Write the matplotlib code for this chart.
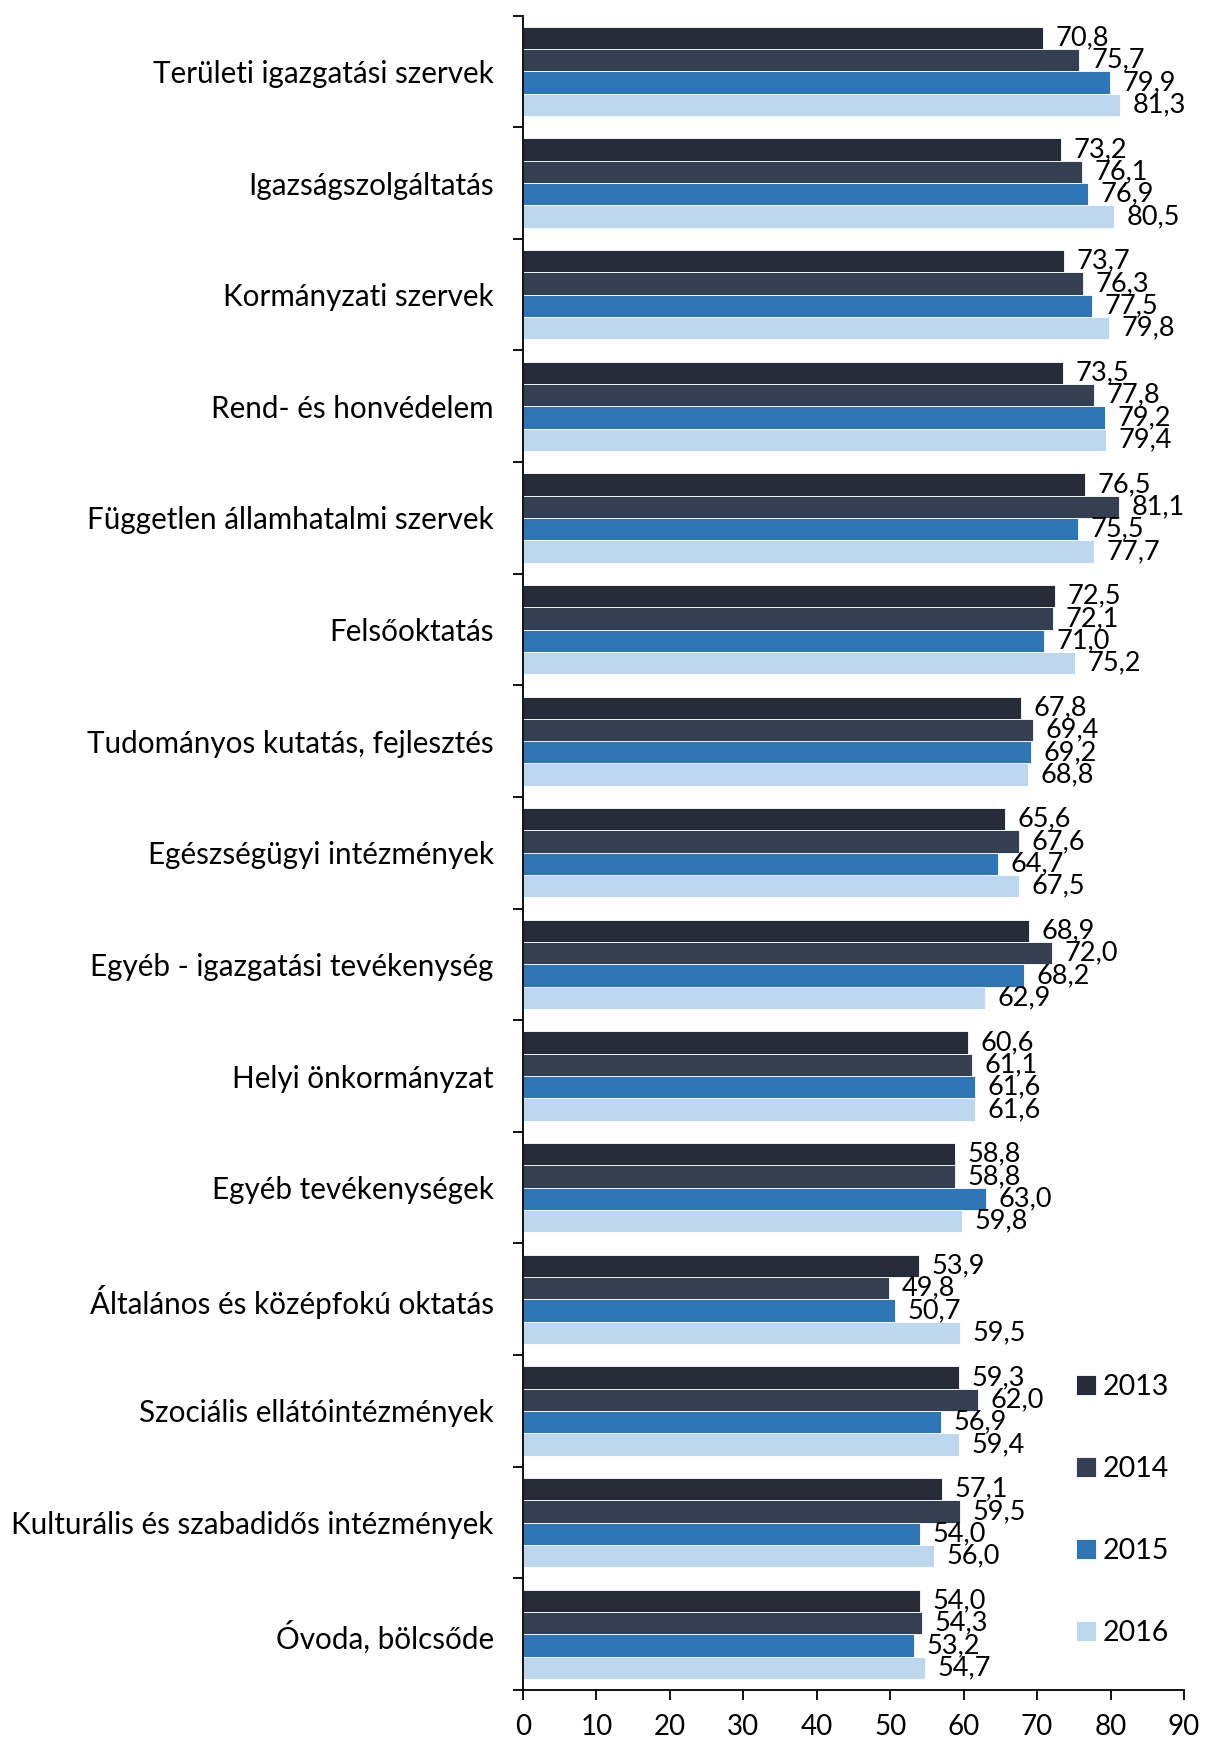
import matplotlib
matplotlib.use("Agg")
import matplotlib.pyplot as plt
import numpy as np

plt.rcParams['font.family'] = ['Lato', 'DejaVu Sans']

categories = [
    "Területi igazgatási szervek",
    "Igazságszolgáltatás",
    "Kormányzati szervek",
    "Rend- és honvédelem",
    "Független államhatalmi szervek",
    "Felsőoktatás",
    "Tudományos kutatás, fejlesztés",
    "Egészségügyi intézmények",
    "Egyéb - igazgatási tevékenység",
    "Helyi önkormányzat",
    "Egyéb tevékenységek",
    "Általános és középfokú oktatás",
    "Szociális ellátóintézmények",
    "Kulturális és szabadidős intézmények",
    "Óvoda, bölcsőde",
]
years = ["2013", "2014", "2015", "2016"]
v2013 = [70.8, 73.2, 73.7, 73.5, 76.5, 72.5, 67.8, 65.6, 68.9, 60.6, 58.8, 53.9, 59.3, 57.1, 54.0]
v2014 = [75.7, 76.1, 76.3, 77.8, 81.1, 72.1, 69.4, 67.6, 72.0, 61.1, 58.8, 49.8, 62.0, 59.5, 54.3]
v2015 = [79.9, 76.9, 77.5, 79.2, 75.5, 71.0, 69.2, 64.7, 68.2, 61.6, 63.0, 50.7, 56.9, 54.0, 53.2]
v2016 = [81.3, 80.5, 79.8, 79.4, 77.7, 75.2, 68.8, 67.5, 62.9, 61.6, 59.8, 59.5, 59.4, 56.0, 54.7]
series = [v2013, v2014, v2015, v2016]
colors = ["#252b37", "#353f52", "#2f74b5", "#bdd7ee"]
xticks = [0, 10, 20, 30, 40, 50, 60, 70, 80, 90]

fig = plt.figure(figsize=(12.06, 17.44), dpi=100)
ax = fig.add_axes([523/1206, 1 - 1690/1744, (1184-523)/1206, (1690-15.6)/1744])

y = np.arange(len(categories))
h = 0.2
fs = 19.5
for i, (vals, col, yr) in enumerate(zip(series, colors, years)):
    pos = y - 0.3 + i * h
    ax.barh(pos, vals, height=h, color=col, edgecolor="white", linewidth=0.6, label=yr)
    for p, v in zip(pos, vals):
        ax.annotate(f"{v:.1f}".replace(".", ","), (v, p), xytext=(9, 0),
                    textcoords="offset points", va="center", ha="left", fontsize=fs)

ax.set_ylim(len(categories) - 0.5, -0.5)
ax.set_xlim(0, 90)
ax.set_yticks(y)
ax.set_yticklabels(categories, fontsize=21.3)
ax.set_yticks(np.arange(-0.5, len(categories) + 0.5, 1), minor=True)
ax.tick_params(axis="y", which="major", length=0, pad=21)
ax.tick_params(axis="y", which="minor", length=7, width=1.3, direction="out")
ax.set_xticks(xticks)
ax.set_xticklabels([str(t) for t in xticks], fontsize=20)
ax.tick_params(axis="x", length=7, width=1.3, direction="out", pad=10)
for s in ["top", "right"]:
    ax.spines[s].set_visible(False)
for s in ["left", "bottom"]:
    ax.spines[s].set_linewidth(1.3)

ax.legend(loc="upper left", bbox_to_anchor=(1050/1206, 1 - 1348/1744),
          bbox_transform=fig.transFigure, frameon=False, fontsize=20.5,
          handlelength=0.7, handleheight=0.7, handletextpad=0.25, labelspacing=1.97)

fig.savefig("out.png", dpi=100)
